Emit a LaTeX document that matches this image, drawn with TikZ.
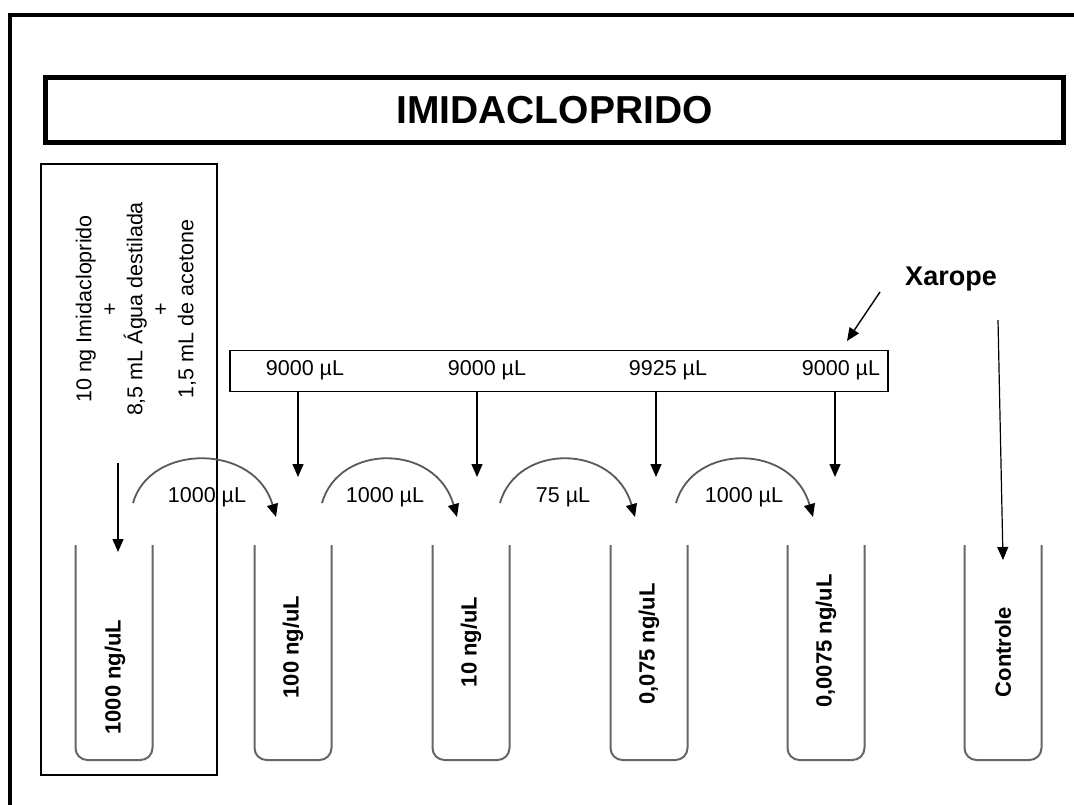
\documentclass[tikz,border=0pt]{standalone}
\usepackage{fontspec}
\setmainfont{Liberation Sans}
\usetikzlibrary{arrows.meta}
\tikzset{
	tube/.style={draw=black!60, line width=2pt, rounded corners=12pt},
	txt/.style={font=\fontsize{21.5}{25.5}\selectfont, inner sep=0pt},
	conc/.style={font=\bfseries\fontsize{22}{26}\selectfont, rotate=90, inner sep=0pt},
	feed/.style={line width=1.4pt, -{Triangle[length=13pt,width=11pt]}},
	pass/.style={draw=black!65, line width=1.8pt, -{Triangle[length=13pt,width=11pt,color=black]}}
}

\begin{document}
\begin{tikzpicture}[x=1pt,y=-1pt]
					\useasboundingbox (0,0) rectangle (1074,805);
					\draw[line width=4pt] (9.5,805) -- (9.5,15) -- (1074,15);
					\node[draw, line width=5pt, minimum width=1018pt, minimum height=65pt, font=\bfseries\fontsize{39}{39}\selectfont] (title) at (554.5,110) {IMIDACLOPRIDO};
					\node[draw, line width=1.3pt, minimum width=176pt, minimum height=611pt] (recipe) at (129,469.5) {};
					\node[txt, rotate=90, align=center] (mix) at (136,309) {10 ng Imidacloprido\\+\\8,5 mL Água destilada\\+\\1,5 mL de acetone};
					\node[draw, line width=1.3pt, minimum width=658pt, minimum height=41pt] (dose) at (559,371) {};
					\foreach \x/\v [count=\i] in {305/9000,487/9000,668/9925,841/9000}
						\node[txt] (d\i) at (\x,370) {\v\ µL};
					\foreach \x [count=\i] in {298,477,656,835} {
						\coordinate (a\i) at (\x,477);
						\draw[feed] (dose.south -| a\i) -- (a\i);
					}
					\foreach \x in {114,293,471,649,826,1003}
						\draw[tube] (\x-38.5,545) -- (\x-38.5,760) -- (\x+38.5,760) -- (\x+38.5,545);
					\node[conc] (c1) at (115,677) {1000 ng/uL};
					\node[conc] (c2) at (293,647) {100 ng/uL};
					\node[conc] (c3) at (471,642) {10 ng/uL};
					\node[conc] (c4) at (649,644) {0,075 ng/uL};
					\node[conc] (c5) at (826,641) {0,0075 ng/uL};
					\node[conc] (c6) at (1003,652) {Controle};
					\foreach \s/\e [count=\i] in {133/276,322/457,500/635,676/813} {
						\coordinate (s\i) at (\s,503);
						\coordinate (e\i) at (\e,517);
						\draw[pass] (s\i) .. controls +(17,-60) and +(-21,-74) .. (e\i);
					}
					\node[txt] (p1) at (207,497) {1000 µL};
					\node[txt] (p2) at (385,497) {1000 µL};
					\node[txt] (p3) at (563,497) {75 µL};
					\node[txt] (p4) at (744,497) {1000 µL};
					\coordinate (f0) at (118,463);
					\coordinate (f1) at (118,552);
					\draw[feed] (f0) -- (f1);
					\node[font=\bfseries\fontsize{27}{27}\selectfont, inner sep=0pt, anchor=base] (syrup) at (951,285) {Xarope};
					\coordinate (x0) at (880,292);
					\coordinate (x1) at (847,341);
					\draw[feed] (x0) -- (x1);
					\coordinate (k0) at (998,320);
					\coordinate (k1) at (1003,560);
					\draw[feed, line width=1.2pt] (k0) -- (k1);
				\end{tikzpicture}
\end{document}
